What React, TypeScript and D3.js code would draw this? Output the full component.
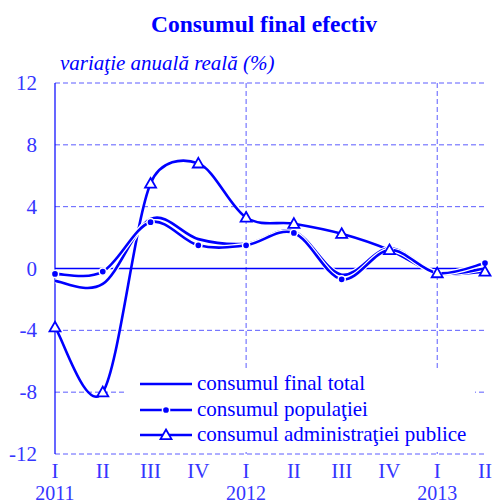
import React from "react";
import * as d3 from "d3";

const quarters = ["I", "II", "III", "IV", "I", "II", "III", "IV", "I", "II"];
const years = [
  { label: "2011", index: 0 },
  { label: "2012", index: 4 },
  { label: "2013", index: 8 },
];
const totalSeries = [-0.8, -1.0, 3.2, 1.9, 1.6, 2.4, -0.4, 1.3, -0.3, 0.0];
const populationSeries = [-0.35, -0.2, 3.0, 1.5, 1.5, 2.3, -0.7, 1.2, -0.3, 0.35];
const adminSeries = [-3.8, -8.0, 5.5, 6.8, 3.3, 2.9, 2.25, 1.2, -0.3, -0.2];
const yTicks = [12, 8, 4, 0, -4, -8, -12];
const legendLabels = [
  "consumul final total",
  "consumul populaţiei",
  "consumul administraţiei publice",
];

const BLUE = "#0000ff";
const GRID = "#5c5cff";
const LABEL = "#3535ff";
const FONT = "'Liberation Serif', 'Times New Roman', serif";

// Excel-like smoothed line: Catmull-Rom Bezier with control-arm clamping
function smoothPath(pts: [number, number][]): string {
  const p = d3.path();
  if (!pts.length) return "";
  p.moveTo(pts[0][0], pts[0][1]);
  const dist = (a: [number, number], b: [number, number]) =>
    Math.hypot(b[0] - a[0], b[1] - a[1]);
  for (let i = 0; i < pts.length - 1; i++) {
    const P0 = pts[i - 1] || pts[i];
    const P1 = pts[i];
    const P2 = pts[i + 1];
    const P3 = pts[i + 2] || pts[i + 1];
    const d12 = dist(P1, P2);
    const d02 = dist(P0, P2);
    const d13 = dist(P1, P3);
    let f1 = 1 / 6;
    let f2 = 1 / 6;
    if (d02 / 6 > d12 / 2 && d02 > 0) f1 = d12 / 2 / d02;
    if (d13 / 6 > d12 / 2 && d13 > 0) f2 = d12 / 2 / d13;
    const c1x = P1[0] + (P2[0] - P0[0]) * f1;
    const c1y = P1[1] + (P2[1] - P0[1]) * f1;
    const c2x = P2[0] - (P3[0] - P1[0]) * f2;
    const c2y = P2[1] - (P3[1] - P1[1]) * f2;
    p.bezierCurveTo(c1x, c1y, c2x, c2y, P2[0], P2[1]);
  }
  return p.toString();
}

export default function App() {
  const W = 494;
  const H = 504;
  const x = d3.scaleLinear().domain([0, quarters.length - 1]).range([55, 485]);
  const y = d3.scaleLinear().domain([-12, 12]).range([454, 83]);
  const line = (vals: number[]) =>
    smoothPath(vals.map((v, i) => [x(i), y(v)] as [number, number]));

  const tri = (cx: number, cy: number, s = 5.5) =>
    `M${cx},${cy - s} L${cx + s},${cy + s * 0.75} L${cx - s},${cy + s * 0.75} Z`;

  const legendX = 124;
  const legendY = 369;
  const legendRows = [384, 410, 435];

  return (
    <svg width={W} height={H} style={{ position: "absolute", left: 0, top: 0 }}>
      <rect width={W} height={H} fill="#fff" />
      <text
        x={264}
        y={32}
        textAnchor="middle"
        fontFamily={FONT}
        fontWeight="bold"
        fontSize={23.5}
        fill={BLUE}
      >
        Consumul final efectiv
      </text>
      <text x={60} y={70} fontFamily={FONT} fontStyle="italic" fontSize={21} fill={BLUE}>
        variaţie anuală reală (%)
      </text>

      {/* horizontal grid */}
      {yTicks
        .filter((t) => t !== 0)
        .map((t) => (
          <line
            key={"h" + t}
            x1={x(0)}
            x2={x(quarters.length - 1)}
            y1={y(t)}
            y2={y(t)}
            stroke={GRID}
            strokeWidth={1}
            strokeDasharray="5,3"
          />
        ))}
      {/* vertical grid */}
      {years
        .filter((yr) => yr.index > 0)
        .map((yr) => (
          <line
            key={"v" + yr.label}
            x1={x(yr.index)}
            x2={x(yr.index)}
            y1={y(12)}
            y2={y(-12)}
            stroke={GRID}
            strokeWidth={1}
            strokeDasharray="5,3"
          />
        ))}
      {/* axes */}
      <line x1={x(0)} x2={x(0)} y1={y(12)} y2={y(-12)} stroke={BLUE} strokeWidth={1.2} />
      <line x1={x(0)} x2={x(quarters.length - 1)} y1={y(0)} y2={y(0)} stroke={BLUE} strokeWidth={1.5} />

      {/* y tick labels */}
      {yTicks.map((t) => (
        <text
          key={"yt" + t}
          x={37}
          y={y(t) + 7}
          textAnchor="end"
          fontFamily={FONT}
          fontSize={21}
          fill={LABEL}
        >
          {t}
        </text>
      ))}
      {/* x labels */}
      {quarters.map((q, i) => (
        <text
          key={"q" + i}
          x={x(i)}
          y={478}
          textAnchor="middle"
          fontFamily={FONT}
          fontSize={21}
          fill={LABEL}
        >
          {q}
        </text>
      ))}
      {years.map((yr) => (
        <text
          key={"y" + yr.label}
          x={x(yr.index)}
          y={500}
          textAnchor="middle"
          fontFamily={FONT}
          fontSize={20}
          fill={LABEL}
        >
          {yr.label}
        </text>
      ))}

      {/* series */}
      <path d={line(adminSeries)} fill="none" stroke={BLUE} strokeWidth={2.6} />
      <path d={line(totalSeries)} fill="none" stroke="#fff" strokeWidth={5} />
      <path d={line(totalSeries)} fill="none" stroke={BLUE} strokeWidth={2.6} />
      <path d={line(populationSeries)} fill="none" stroke="#fff" strokeWidth={5} />
      <path d={line(populationSeries)} fill="none" stroke={BLUE} strokeWidth={2.6} />
      {populationSeries.map((v, i) => (
        <circle key={"pc" + i} cx={x(i)} cy={y(v)} r={3.6} fill={BLUE} stroke="#fff" strokeWidth={1.5} />
      ))}
      {adminSeries.map((v, i) => (
        <path key={"at" + i} d={tri(x(i), y(v))} fill="#fff" stroke={BLUE} strokeWidth={1.8} />
      ))}

      {/* legend */}
      <rect x={legendX} y={legendY} width={351} height={83} fill="#fff" />
      {legendRows.map((ry, k) => (
        <g key={"lg" + k}>
          <line x1={140} x2={192} y1={ry} y2={ry} stroke={BLUE} strokeWidth={2.6} />
          {k === 1 && (
            <circle cx={166} cy={ry} r={3.6} fill={BLUE} stroke="#fff" strokeWidth={1.5} />
          )}
          {k === 2 && <path d={tri(166, ry)} fill="#fff" stroke={BLUE} strokeWidth={1.8} />}
          <text x={197} y={ry + 6} fontFamily={FONT} fontSize={21} fill={BLUE}>
            {legendLabels[k]}
          </text>
        </g>
      ))}
    </svg>
  );
}
